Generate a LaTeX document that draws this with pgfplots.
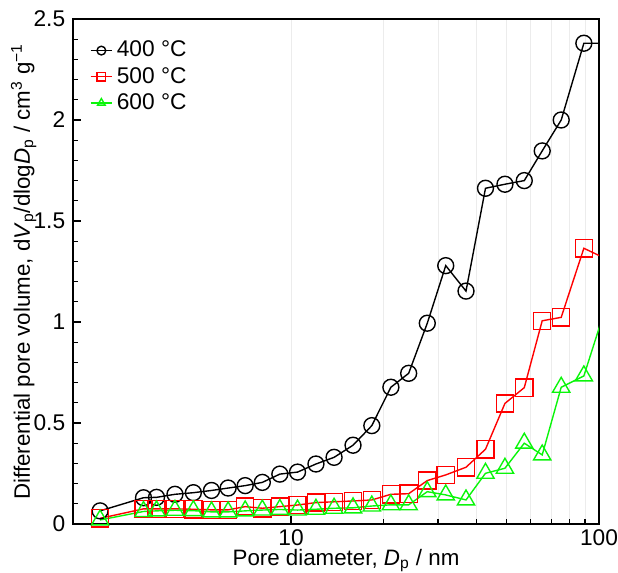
\documentclass[border=0pt]{standalone}
\usepackage{fontspec}
\setmainfont{Liberation Sans}
\usepackage{pgfplots}
\pgfplotsset{compat=1.18}
\definecolor{cred}{RGB}{255,0,0}
\definecolor{cgreen}{RGB}{10,245,10}

\begin{document}
\fontsize{11.2}{13}\selectfont
\begin{tikzpicture}
\begin{axis}[
    name=ax,
    xmode=log,
    scale only axis,
    width=263bp, height=252.5bp,
    xmin=1.96, xmax=100,
    ymin=0, ymax=2.5,
    xtick={10,100}, xticklabels={10,100},
    ytick={0,0.5,1,1.5,2,2.5}, yticklabels={0,0.5,1,1.5,2,2.5},
    minor y tick num=4,
    tick pos=left,
    tick align=inside,
    major tick length=4bp,
    minor tick length=2.5bp,
    tick style={black, line width=0.6pt},
    axis line style={line width=0.7pt},
    xminorgrids=true,
    minor x grid style={gray!15, line width=0.4pt},
    tick label style={font=\fontsize{11.4}{13}\selectfont},
    xticklabel style={yshift=1.2bp},
    label style={font=\fontsize{11.2}{13}\selectfont},
    xlabel={Pore diameter, \textit{D}\textsubscript{p} / nm},
    ylabel={Differential pore volume, d\textit{V}\textsubscript{p}/dlog\textit{D}\textsubscript{p} / cm\textsuperscript{3} g\textsuperscript{−1}},
    xlabel style={inner sep=1.5bp, yshift=3.7bp, xshift=5bp},
    ylabel style={yshift=-9bp},
    legend style={at={(0.02,0.973)}, anchor=north west, draw=none, fill=none,
        font=\fontsize{11.4}{13}\selectfont, row sep=-0.5bp},
    legend cell align=left,
    legend image code/.code={\draw[#1,mark indices={2},mark size=2.2pt]
        plot coordinates {(0cm,0cm) (0.19cm,0cm) (0.38cm,0cm)};},
]
\addplot[black, line width=0.7pt, mark=o, mark size=4pt, mark indices={1,...,26},
    mark options={line width=0.7pt}] coordinates {
(2.40,0.065) (3.32,0.13) (3.66,0.132) (4.20,0.147) (4.82,0.155) (5.52,0.166)
(6.25,0.178) (7.10,0.19) (8.07,0.206) (9.20,0.247) (10.5,0.257) (12.05,0.297)
(13.8,0.33) (15.9,0.39) (18.3,0.487) (21.1,0.677) (24.1,0.746) (27.7,0.994)
(31.8,1.279) (37.0,1.153) (42.8,1.662) (49.5,1.682) (57.2,1.70) (65.4,1.847)
(75.4,2.0) (89.3,2.38) (103,2.38)
};
\addlegendentry{400 °C}
\addplot[cred, line width=0.7pt, mark=square, mark size=4.3pt, mark indices={1,...,26},
    mark options={line width=0.7pt}] coordinates {
(2.40,0.028) (3.32,0.075) (3.66,0.075) (4.20,0.075) (4.82,0.073) (5.52,0.07)
(6.25,0.07) (7.10,0.086) (8.07,0.078) (9.20,0.086) (10.5,0.094) (12.05,0.106)
(13.8,0.11) (15.9,0.114) (18.3,0.119) (21.1,0.147) (24.1,0.15) (27.7,0.215)
(31.8,0.243) (37.0,0.281) (42.8,0.37) (49.5,0.597) (57.2,0.675) (65.4,1.006)
(75.4,1.023) (89.3,1.365) (103,1.32)
};
\addlegendentry{500 °C}
\addplot[cgreen, line width=0.7pt, mark=triangle, mark size=5pt, mark indices={1,...,26},
    mark options={line width=0.7pt}] coordinates {
(2.40,0.02) (3.32,0.062) (3.66,0.065) (4.20,0.068) (4.82,0.066) (5.52,0.06)
(6.25,0.06) (7.10,0.065) (8.07,0.069) (9.20,0.072) (10.5,0.069) (12.05,0.073)
(13.8,0.078) (15.9,0.08) (18.3,0.089) (21.1,0.095) (24.1,0.095) (27.7,0.16)
(31.8,0.144) (37.0,0.119) (42.8,0.251) (49.5,0.276) (57.2,0.40) (65.4,0.342)
(75.4,0.677) (89.3,0.733) (103,1.03)
};
\addlegendentry{600 °C}
\end{axis}
\pgfresetboundingbox
\path[use as bounding box] ([shift={(-36.5bp,-24.5bp)}]ax.south west)
    rectangle ([shift={(9.5bp,9.5bp)}]ax.north east);
\end{tikzpicture}
\end{document}
